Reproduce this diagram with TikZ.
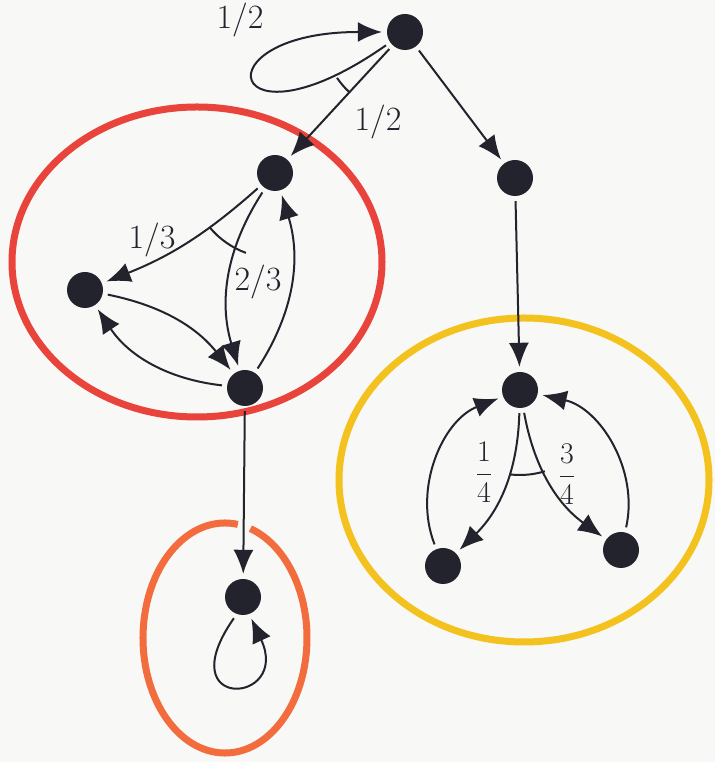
\RequirePackage{fix-cm}
\documentclass[tikz,border=0pt]{standalone}
\usepackage{amsmath}
\usepackage{tikz}
\usetikzlibrary{arrows.meta,positioning,calc}
\definecolor{ink}{HTML}{23232E}
\definecolor{paper}{HTML}{F8F8F6}
\definecolor{redring}{HTML}{E8443C}
\definecolor{yellowring}{HTML}{F3C21E}
\definecolor{orangering}{HTML}{F36C3E}
\tikzset{
  state/.style={circle, fill=ink, inner sep=0pt, minimum size=36pt},
  trans/.style={draw=ink, line width=2pt, -{Latex[length=24pt,width=20pt]}, shorten >=5pt, shorten <=5pt},
  ring/.style={line width=7pt},
  prob/.style={font=\fontsize{34}{36}\selectfont, text=ink, inner sep=1pt},
  fork/.style={draw=ink, line width=2pt}
}

\begin{document}
\begin{tikzpicture}[x=1pt,y=1pt]
\fill[paper] (0,0) rectangle (715,762);
\useasboundingbox (0,0) rectangle (715,762);
% classes
\draw[ring, redring] (197,500) ellipse[x radius=185, y radius=155];
\draw[ring, yellowring] (524,282) ellipse[x radius=185, y radius=162];
\draw[ring, orangering] ($(225,124)+(81:82 and 115)$) arc[start angle=81, end angle=432, x radius=82, y radius=115];
% states
\node[state] (s0) at (405,730) {};
\node[state] (s1) at (275,589) {};
\node[state] (s2) at (515,584) {};
\node[state] (s3) at (85,472) {};
\node[state] (s4) at (245,374) {};
\node[state] (s5) at (520,372) {};
\node[state] (s6) at (443,196) {};
\node[state] (s7) at (621,212) {};
\node[state] (s8) at (243,165) {};
% transitions
\draw[trans] (s0.215) .. controls +(215:200) and +(180:190) .. (s0.180);
\draw[trans] (s0) -- (s1);
\draw[trans] (s0) -- (s2);
\draw[trans] (s2) -- (s5);
\draw[trans] (s1) to[bend left=10] (s3);
\draw[trans] (s1) to[bend right=25] (s4);
\draw[trans] (s3) to[bend left=20] (s4);
\draw[trans] (s4) to[bend left=25] (s3);
\draw[trans] (s4) to[bend right=25] (s1);
\draw[trans] (s4) -- (s8);
\draw[trans] (s8.250) .. controls +(235:120) and +(295:100) .. (s8.290);
\draw[trans] (s5) to[bend left=22] (s6);
\draw[trans] (s5) to[bend right=22] (s7);
\draw[trans] (s6) to[bend left=45] (s5);
\draw[trans] (s7) to[bend right=45] (s5);
% forks
\draw[fork] ($(s0)+(214:82)$) arc[start angle=214, end angle=227, radius=82];
\draw[fork] ($(s1)+(220:85)$) arc[start angle=220, end angle=250, radius=85];
\draw[fork] ($(s5)+(263:85)$) arc[start angle=263, end angle=287, radius=85];
% probabilities
\node[prob] (p0) at (240,742) {1/2};
\node[prob] (p1) at (378,640) {1/2};
\node[prob] (p2) at (152,522) {1/3};
\node[prob] (p3) at (258,480) {2/3};
\node[prob, font=\fontsize{30}{32}\selectfont] (p4) at (484,290) {$\dfrac{1}{4}$};
\node[prob, font=\fontsize{30}{32}\selectfont] (p5) at (567,288) {$\dfrac{3}{4}$};
\end{tikzpicture}
\end{document}
